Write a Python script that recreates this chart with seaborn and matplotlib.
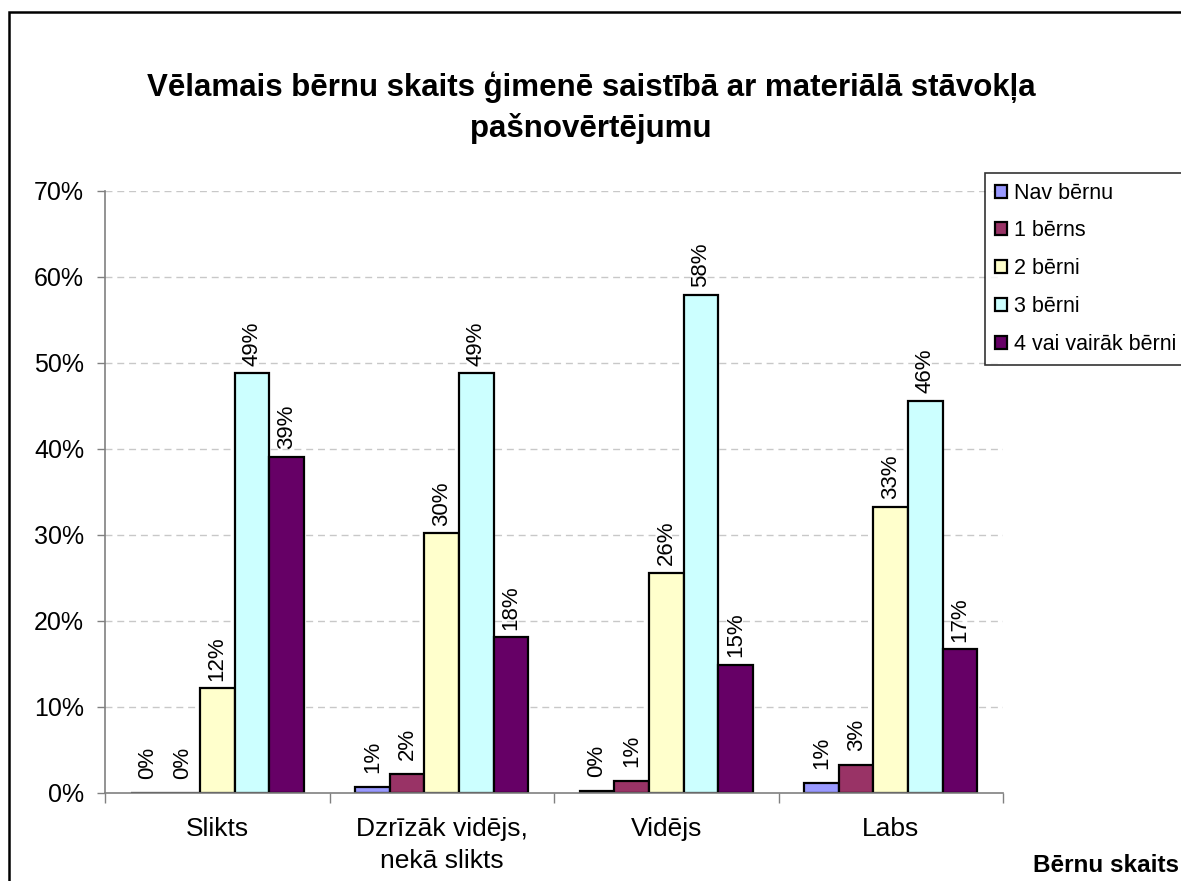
import matplotlib
matplotlib.use("Agg")
import matplotlib.pyplot as plt
import matplotlib.patches as mpatches
from matplotlib.ticker import FuncFormatter, FixedLocator
import seaborn as sns
import pandas as pd

categories = ["Slikts", "Dzrīzāk vidējs,\nnekā slikts", "Vidējs", "Labs"]
series = ["Nav bērnu", "1 bērns", "2 bērni", "3 bērni", "4 vai vairāk bērni"]
nav_bernu = [0.0, 0.7, 0.2, 1.2]
viens_berns = [0.0, 2.2, 1.4, 3.3]
divi_berni = [12.2, 30.2, 25.6, 33.3]
tris_berni = [48.8, 48.8, 57.9, 45.6]
cetri_vairak = [39.1, 18.1, 14.9, 16.7]
colors = ["#9999FF", "#993366", "#FFFFCC", "#CCFFFF", "#660066"]

title = "Vēlamais bērnu skaits ģimenē saistībā ar materiālā stāvokļa\npašnovērtējumu"
legend_title = "Bērnu skaits"

values = [nav_bernu, viens_berns, divi_berni, tris_berni, cetri_vairak]
rows = []
for s, vals in zip(series, values):
    for c, v in zip(categories, vals):
        rows.append({"Kategorija": c, "Sērija": s, "Vērtība": v})
df = pd.DataFrame(rows)

sns.set_style("white")
plt.rcParams["font.family"] = ["Liberation Sans", "DejaVu Sans"]
plt.rcParams["text.color"] = "black"
plt.rcParams["xtick.labelcolor"] = "black"
plt.rcParams["ytick.labelcolor"] = "black"

fig = plt.figure(figsize=(11.81, 8.81), dpi=100)
ax = fig.add_axes([105 / 1181, 1 - 793 / 881, (1003 - 105) / 1181, (793 - 191) / 881])

sns.barplot(data=df, x="Kategorija", y="Vērtība", hue="Sērija", order=categories,
            hue_order=series, palette=dict(zip(series, colors)), width=0.77,
            edgecolor="black", linewidth=1.6, ax=ax, saturation=1, gap=0)

for cont in ax.containers:
    for p in cont.patches:
        h = p.get_height()
        ax.annotate(f"{h:.0f}%", (p.get_x() + p.get_width() / 2, h),
                    xytext=(0, 21.5), textcoords="offset points",
                    rotation=90, ha="center", va="center", fontsize=16,
                    color="black")

ax.set_ylim(0, 70)
ax.set_xlim(-0.5, 3.5)
ax.set_yticks(range(0, 71, 10))
ax.yaxis.set_major_formatter(FuncFormatter(lambda v, _: f"{v:.0f}%"))
ax.tick_params(axis="y", labelsize=18, length=6, width=1, color="#808080",
               pad=9, left=True, labelcolor="black")
ax.tick_params(axis="x", which="major", labelsize=19, length=0, pad=17,
               labelcolor="black")
for lbl in ax.get_xticklabels():
    lbl.set_linespacing(1.45)
ax.xaxis.set_minor_locator(FixedLocator([-0.5, 0.5, 1.5, 2.5, 3.5]))
ax.tick_params(axis="x", which="minor", length=7, width=1, color="#808080", bottom=True)
ax.set_xlabel("")
ax.set_ylabel("")

for y in range(10, 71, 10):
    ax.axhline(y, color="#c8c8c8", linewidth=1, linestyle=(0, (5, 3.5)), zorder=0)
ax.set_axisbelow(True)

for side in ["top", "right"]:
    ax.spines[side].set_visible(False)
for side in ["left", "bottom"]:
    ax.spines[side].set_color("#808080")
    ax.spines[side].set_linewidth(1.2)

handles, labels = ax.get_legend_handles_labels()
if ax.get_legend() is not None:
    ax.get_legend().remove()
leg = fig.legend(handles, labels, loc="upper left",
                 bbox_to_anchor=(985 / 1181, 1 - 173 / 881),
                 bbox_transform=fig.transFigure, fontsize=15.5, frameon=True,
                 fancybox=False, edgecolor="black", handlelength=0.55,
                 handleheight=0.55, handletextpad=0.35, labelspacing=0.78,
                 borderpad=0.45, borderaxespad=0)
leg.get_frame().set_linewidth(1.2)
for t in leg.get_texts():
    t.set_color("black")

fig.text(591 / 1181, 1 - 108 / 881, title, ha="center", va="center",
         fontsize=22.5, fontweight="bold", linespacing=1.4, color="black")
fig.text(1033 / 1181, 1 - 865 / 881, legend_title, ha="left", va="center",
         fontsize=17.5, fontweight="bold", color="black")

frame = mpatches.Rectangle((9 / 1181, -0.1), 1.2, 1 - 12 / 881 + 0.1,
                           transform=fig.transFigure, fill=False,
                           edgecolor="black", linewidth=1.8, clip_on=False)
fig.add_artist(frame)

fig.savefig("out.png", dpi=100)
